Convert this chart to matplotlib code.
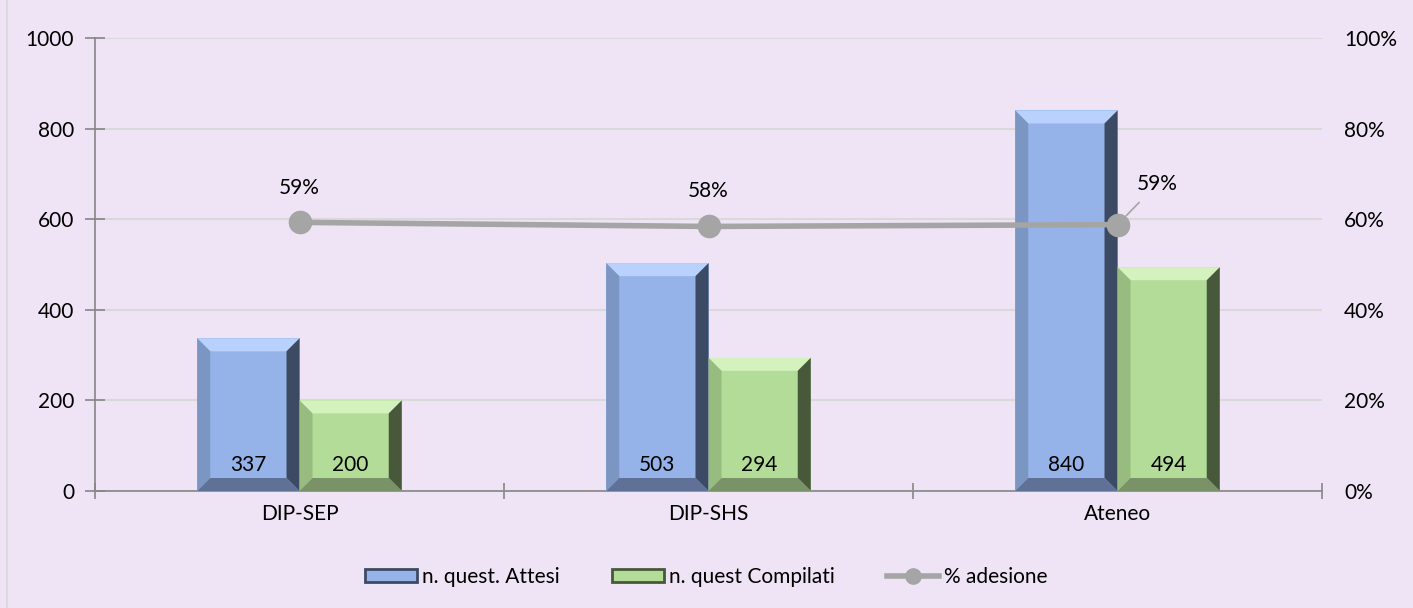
import matplotlib.pyplot as plt
from matplotlib.patches import Polygon
from matplotlib.lines import Line2D
from matplotlib.ticker import FuncFormatter

plt.rcParams['font.family'] = ['Lato', 'DejaVu Sans']

# dati
categorie = ['DIP-SEP', 'DIP-SHS', 'Ateneo']
attesi = [337, 503, 840]
compilati = [200, 294, 494]
adesione = [0.593, 0.584, 0.588]
etichette_pct = ['59%', '58%', '59%']

sfondo = '#EFE4F5'
blu = {'face': '#95B3E8', 'top': '#B9D2FD', 'left': '#7C96C4', 'right': '#3C4A64', 'bottom': '#5F7196'}
verde = {'face': '#B3DC98', 'top': '#D3F2BD', 'left': '#98BB80', 'right': '#47583B', 'bottom': '#7A9268'}
grigio = '#A5A5A5'
fs = 15

W, H = 1413, 608
fig = plt.figure(figsize=(W / 100, H / 100), dpi=100, facecolor=sfondo)
ax = fig.add_axes([95 / W, 1 - 491 / H, (1322 - 95) / W, (491 - 38) / H])
ax.set_facecolor(sfondo)

x = list(range(len(categorie)))
larg = 0.25
ax.set_xlim(-0.5, len(categorie) - 0.5)
ax.set_ylim(0, 1000)

b1 = ax.bar([i - larg / 2 for i in x], attesi, larg, color=blu['face'], zorder=3)
b2 = ax.bar([i + larg / 2 for i in x], compilati, larg, color=verde['face'], zorder=3)

# effetto bisello (come Excel)
px_x = ax.get_position().width * W / (ax.get_xlim()[1] - ax.get_xlim()[0])
px_y = ax.get_position().height * H / 1000
bev = 13


def bisello(rett, col):
    x0, y0 = rett.get_x(), rett.get_y()
    x1, y1 = x0 + rett.get_width(), y0 + rett.get_height()
    bx, by = bev / px_x, bev / px_y
    ix0, ix1, iy0, iy1 = x0 + bx, x1 - bx, y0 + by, y1 - by
    parti = [
        ([(x0, y1), (x1, y1), (ix1, iy1), (ix0, iy1)], col['top']),
        ([(x0, y0), (x0, y1), (ix0, iy1), (ix0, iy0)], col['left']),
        ([(x1, y0), (x1, y1), (ix1, iy1), (ix1, iy0)], col['right']),
        ([(x0, y0), (x1, y0), (ix1, iy0), (ix0, iy0)], col['bottom']),
    ]
    for pts, c in parti:
        ax.add_patch(Polygon(pts, closed=True, facecolor=c, edgecolor='none', zorder=3.5))


for r in b1:
    bisello(r, blu)
for r in b2:
    bisello(r, verde)

for r, v in list(zip(b1, attesi)) + list(zip(b2, compilati)):
    ax.text(r.get_x() + r.get_width() / 2, 58, str(v), ha='center', va='center',
            fontsize=fs, color='black', zorder=5)

ax.set_yticks(range(0, 1001, 200))
ax.grid(axis='y', color='#D9D9D9', linewidth=1.5, zorder=0)
ax.set_axisbelow(True)
ax.set_xticks(x)
ax.set_xticklabels(categorie, fontsize=fs)
ax.set_xticks([i - 0.5 for i in range(len(categorie) + 1)], minor=True)
ax.tick_params(axis='x', which='major', length=0, pad=9)
ax.tick_params(axis='x', which='minor', direction='inout', length=12, width=1.2, color='#868686')
ax.tick_params(axis='y', direction='inout', length=14, width=1.2, color='#868686', labelsize=fs, pad=8)
for s in ['top', 'right']:
    ax.spines[s].set_visible(False)
for s in ['left', 'bottom']:
    ax.spines[s].set_color('#868686')
    ax.spines[s].set_linewidth(1.2)

ax2 = ax.twinx()
ax2.set_ylim(0, 1)
ax2.set_yticks([0, 0.2, 0.4, 0.6, 0.8, 1.0])
ax2.yaxis.set_major_formatter(FuncFormatter(lambda v, p: f'{v:.0%}'))
ax2.tick_params(axis='y', length=0, labelsize=fs, pad=16)
for s in ax2.spines.values():
    s.set_visible(False)
ax2.plot(x, adesione, color=grigio, linewidth=4, marker='o', markersize=16, zorder=6)

ax2.annotate(etichette_pct[0], (x[0], adesione[0]), xytext=(0, 34), textcoords='offset pixels',
             ha='center', va='center', fontsize=fs)
ax2.annotate(etichette_pct[1], (x[1], adesione[1]), xytext=(0, 35), textcoords='offset pixels',
             ha='center', va='center', fontsize=fs)
ax2.annotate(etichette_pct[2], (x[2], adesione[2]), xytext=(40, 41), textcoords='offset pixels',
             ha='center', va='center', fontsize=fs,
             arrowprops=dict(arrowstyle='-', color=grigio, linewidth=1.2, shrinkA=6, shrinkB=9))

maniglie = [
    Polygon([(0, 0)], facecolor=blu['face'], edgecolor=blu['right'], linewidth=2),
    Polygon([(0, 0)], facecolor=verde['face'], edgecolor=verde['right'], linewidth=2),
    Line2D([], [], color=grigio, linewidth=4, marker='o', markersize=11),
]
fig.legend(maniglie, ['n. quest. Attesi', 'n. quest Compilati', '% adesione'], loc='center',
           bbox_to_anchor=(0.5, 1 - 577 / H), ncol=3, frameon=False, fontsize=fs,
           handlelength=2.5, handleheight=0.55, handletextpad=0.25, columnspacing=2.5)

fig.add_artist(Line2D([6.5 / W, 6.5 / W], [0, 1], color='#D9D9D9', linewidth=1.5))

plt.savefig('out.png', dpi=100, facecolor=sfondo)
